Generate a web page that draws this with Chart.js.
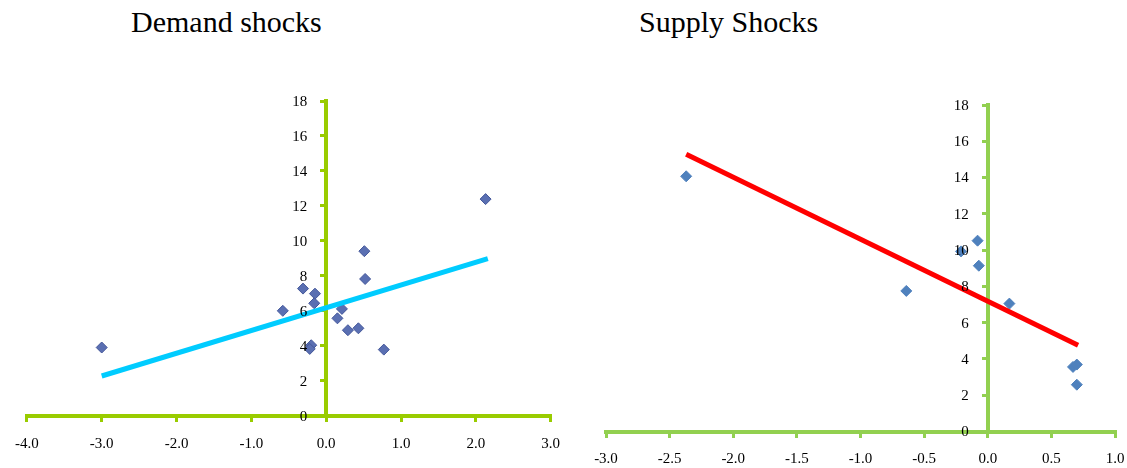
<!DOCTYPE html>
<html>
<head>
<meta charset="utf-8">
<script src="https://cdn.jsdelivr.net/npm/chart.js@4.4.1/dist/chart.umd.min.js"></script>
<style>
  body { margin: 0; background: #fff; }
  #wrap { position: relative; width: 1127px; height: 468px; overflow: hidden; }
  canvas { position: absolute; top: 0; }
  .titulo { position: absolute; top: 7px; font-family: 'Liberation Serif', 'Times New Roman', serif; font-size: 30px; line-height: 30px; color: #000; white-space: nowrap; }
</style>
</head>
<body>
<div id="wrap">
  <div class="titulo" style="left:131px">Demand shocks</div>
  <div class="titulo" style="left:639px">Supply Shocks</div>
  <canvas id="demanda" width="580" height="468" style="left:0"></canvas>
  <canvas id="oferta" width="600" height="468" style="left:560px"></canvas>
</div>
<script>
// Demand shocks
const demandX = [-3.0, -0.58, -0.31, -0.15, -0.16, -0.20, -0.22, 0.15, 0.21, 0.29, 0.43, 0.51, 0.52, 0.77, 2.13];
const demandY = [3.9, 6.0, 7.27, 6.98, 6.43, 4.03, 3.82, 5.57, 6.11, 4.89, 5.0, 9.41, 7.82, 3.78, 12.39];
const demandTrendX = [-3.0, 2.16];
const demandTrendY = [2.27, 8.99];

// Supply shocks
const supplyX = [-2.37, -0.64, -0.21, -0.08, -0.07, 0.17, 0.67, 0.70, 0.70];
const supplyY = [14.07, 7.75, 9.93, 10.52, 9.14, 7.05, 3.56, 3.69, 2.58];
const supplyTrendX = [-2.37, 0.71];
const supplyTrendY = [15.29, 4.76];

const yTicks = { min: 0, max: 18, step: 2 };

function puntos(xs, ys) {
    return xs.map((x, i) => ({ x: x, y: ys[i] }));
}

const familia = "'Liberation Serif', 'Times New Roman', serif";
const fuente = { family: familia, size: 15 };

// Chart.js no separa las etiquetas del eje Y cuando el eje va en x = 0,
// asi que las pintamos aqui a partir de los ticks de la escala
const etiquetasY = {
    id: 'etiquetasY',
    afterDraw(chart) {
        const ctx = chart.ctx;
        const ejeY = chart.scales.y;
        const x0 = chart.scales.x.getPixelForValue(0);
        ctx.save();
        ctx.font = fuente.size + 'px ' + familia;
        ctx.fillStyle = '#000';
        ctx.textAlign = 'right';
        ctx.textBaseline = 'middle';
        ejeY.ticks.forEach(t => {
            ctx.fillText(String(t.value), x0 - 19, ejeY.getPixelForValue(t.value) + 1);
        });
        ctx.restore();
    }
};

function crearGrafico(id, cfg) {
    const ctx = document.getElementById(id).getContext('2d');
    return new Chart(ctx, {
        type: 'scatter',
        data: {
            datasets: [{
                data: puntos(cfg.trendX, cfg.trendY),
                showLine: true,
                borderColor: cfg.lineColor,
                borderWidth: 5,
                pointRadius: 0,
                order: 0
            }, {
                data: puntos(cfg.xs, cfg.ys),
                pointStyle: 'rectRot',
                pointRadius: 5.5,
                backgroundColor: cfg.pointColor,
                borderColor: cfg.pointBorder,
                borderWidth: 1,
                order: 1
            }]
        },
        options: {
            responsive: false,
            animation: false,
            devicePixelRatio: 1,
            layout: { padding: cfg.padding },
            plugins: { legend: { display: false }, tooltip: { enabled: false } },
            scales: {
                x: {
                    type: 'linear',
                    position: { y: 0 },
                    min: cfg.xMin, max: cfg.xMax,
                    border: { display: true, color: cfg.axisColor, width: 4 },
                    grid: { drawOnChartArea: false, drawTicks: true, tickLength: 4, color: cfg.axisColor, lineWidth: 3 },
                    ticks: { stepSize: cfg.xStep, color: '#000', font: fuente, padding: 15, maxRotation: 0,
                             callback: v => v.toFixed(1) }
                },
                y: {
                    type: 'linear',
                    position: { x: 0 },
                    min: yTicks.min, max: yTicks.max,
                    border: { display: true, color: cfg.axisColor, width: 4 },
                    grid: { drawOnChartArea: false, drawTicks: true, tickLength: 4, color: cfg.axisColor, lineWidth: 3 },
                    ticks: { stepSize: yTicks.step, display: false }
                }
            }
        },
        plugins: [etiquetasY]
    });
}

try {
    crearGrafico('demanda', {
        xs: demandX, ys: demandY, trendX: demandTrendX, trendY: demandTrendY,
        xMin: -4, xMax: 3, xStep: 1,
        lineColor: '#00ccff', pointColor: '#5a6fb2', pointBorder: '#44579a', axisColor: '#99cc00',
        padding: { left: 20, right: 29.3, top: 101, bottom: 52.3 }
    });
    crearGrafico('oferta', {
        xs: supplyX, ys: supplyY, trendX: supplyTrendX, trendY: supplyTrendY,
        xMin: -3, xMax: 1, xStep: 0.5,
        lineColor: '#ff0000', pointColor: '#4f81bd', pointBorder: '#4f81bd', axisColor: '#92d050',
        padding: { left: 46, right: 45, top: 105, bottom: 36.5 }
    });
} catch (error) {
    console.error("Error creando el gráfico:", error);
}
</script>
</body>
</html>
